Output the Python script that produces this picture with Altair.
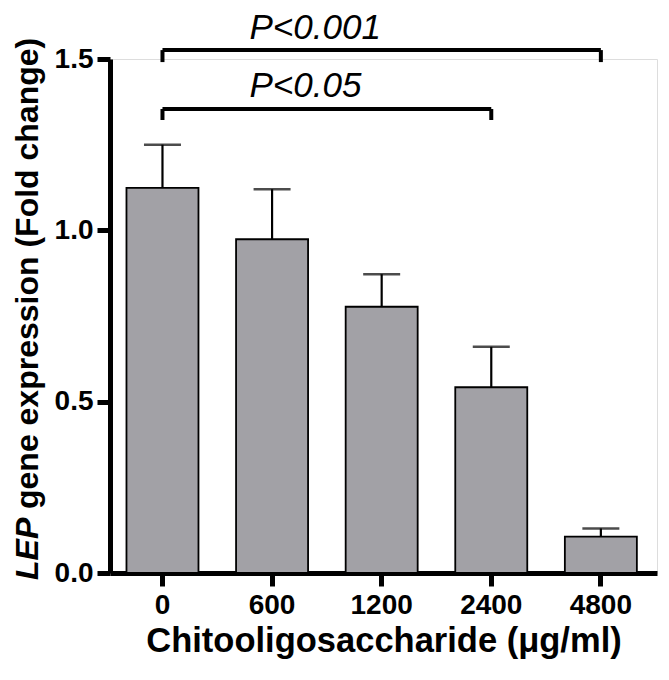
import altair as alt
import pandas as pd

doses = ["0", "600", "1200", "2400", "4800"]
means = [1.124, 0.974, 0.777, 0.542, 0.106]
errs = [0.126, 0.146, 0.095, 0.118, 0.024]

# significance brackets
br_left = ["0", "0"]
br_right = ["4800", "2400"]
br_y = [1.526, 1.354]
br_drop = [1.491, 1.322]
br_label = ["P<0.001", "P<0.05"]
br_label_y = [1.558, 1.389]

df = pd.DataFrame({"dose": doses, "mean": means, "err": errs})
df["upper"] = df["mean"] + df["err"]
br = pd.DataFrame({"x1": br_left, "x2": br_right, "y": br_y, "yd": br_drop,
                   "label": br_label, "ly": br_label_y})

xscale = alt.Scale(domain=doses, paddingInner=0.343, paddingOuter=0.167, align=0.45)
yscale = alt.Scale(domain=[0, 1.5], nice=False)

FONT = "Liberation Sans"

xax = alt.X("dose:N", scale=xscale, sort=doses,
            axis=alt.Axis(title="Chitooligosaccharide (μg/ml)", labelAngle=0,
                          labelFont=FONT, labelFontSize=28, labelFontWeight="bold",
                          labelColor="black", labelPadding=5,
                          titleFont=FONT, titleFontSize=34.5, titleFontWeight="bold",
                          titleColor="black", titlePadding=5,
                          domainColor="black", domainWidth=5,
                          tickColor="black", tickWidth=5, tickSize=13))
yax = alt.Y("mean:Q", scale=yscale,
            axis=alt.Axis(title=None, values=[0, 0.5, 1.0, 1.5], format=".1f",
                          labelFont=FONT, labelFontSize=28, labelFontWeight="bold",
                          labelColor="black", labelPadding=4, grid=False,
                          domainColor="black", domainWidth=5,
                          tickColor="black", tickWidth=5, tickSize=13))

bars = alt.Chart(df).mark_bar(color="#a2a1a6", stroke="black", strokeWidth=1.8).encode(
    x=xax, y=yax)

err_line = alt.Chart(df).mark_rule(color="black", strokeWidth=2.2).encode(
    x=alt.X("dose:N", scale=xscale, sort=doses),
    y=alt.Y("mean:Q", scale=yscale), y2="upper:Q")
err_cap = alt.Chart(df).mark_tick(color="black", thickness=2.5, size=37).encode(
    x=alt.X("dose:N", scale=xscale, sort=doses),
    y=alt.Y("upper:Q", scale=yscale))

br_h = alt.Chart(br).mark_rule(color="black", strokeWidth=4).encode(
    x=alt.X("x1:N", scale=xscale, sort=doses), x2="x2:N",
    y=alt.Y("y:Q", scale=yscale))
br_l = alt.Chart(br).mark_rule(color="black", strokeWidth=4).encode(
    x=alt.X("x1:N", scale=xscale, sort=doses),
    y=alt.Y("y:Q", scale=yscale), y2="yd:Q")
br_r = alt.Chart(br).mark_rule(color="black", strokeWidth=4).encode(
    x=alt.X("x2:N", scale=xscale, sort=doses),
    y=alt.Y("y:Q", scale=yscale), y2="yd:Q")
br_t = alt.Chart(br).mark_text(font=FONT, fontSize=35, fontStyle="italic",
                               align="left", baseline="alphabetic", dx=87,
                               color="black").encode(
    x=alt.X("x1:N", scale=xscale, sort=doses),
    y=alt.Y("ly:Q", scale=yscale), text="label:N")

ytitle_df = pd.DataFrame({"t": ["LEP"]})
yt1 = alt.Chart(ytitle_df).mark_text(font=FONT, fontSize=32, fontWeight="bold",
                                     fontStyle="italic", angle=270, align="left",
                                     baseline="alphabetic", color="black").encode(
    x=alt.value(-72), y=alt.value(521), text="t:N")
ytitle_df2 = pd.DataFrame({"t": ["gene expression (Fold change)"]})
yt2 = alt.Chart(ytitle_df2).mark_text(font=FONT, fontSize=32, fontWeight="bold",
                                      angle=270, align="left",
                                      baseline="alphabetic", color="black").encode(
    x=alt.value(-72), y=alt.value(450), text="t:N")

chart = alt.layer(bars, err_line, err_cap, br_h, br_l, br_r, br_t, yt1, yt2).properties(
    width=547, height=514,
    autosize=alt.AutoSizeParams(type="none"),
    padding={"left": 102, "top": 51, "right": 4, "bottom": 100},
).configure_view(stroke=None).configure(background="white")

chart.save("out.html", embed_options={"renderer": "svg", "actions": False})
